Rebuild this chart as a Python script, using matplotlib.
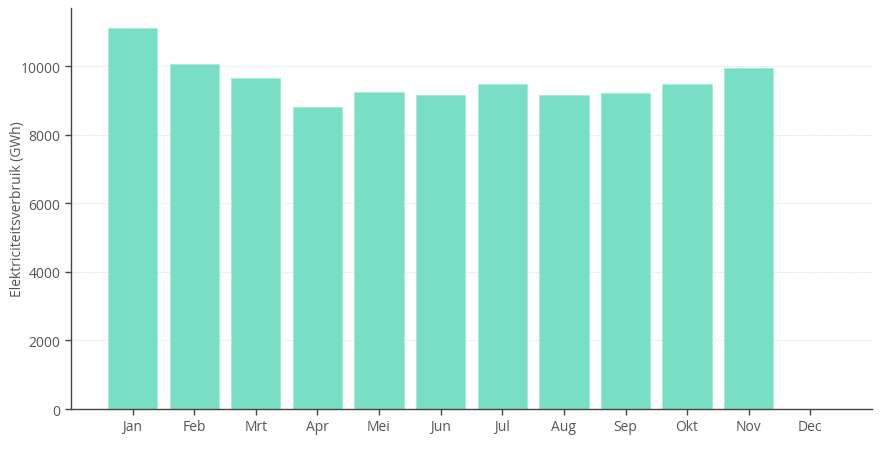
import matplotlib
matplotlib.use("Agg")
import matplotlib.pyplot as plt

months = ["Jan", "Feb", "Mrt", "Apr", "Mei", "Jun", "Jul", "Aug", "Sep", "Okt", "Nov", "Dec"]
verbruik = [11117, 10070, 9662, 8817, 9254, 9167, 9476, 9167, 9234, 9487, 9953, 0]
yticks = [0, 2000, 4000, 6000, 8000, 10000]

plt.rcParams['font.family'] = ['Open Sans', 'DejaVu Sans']

fig = plt.figure(figsize=(8.83, 4.52), dpi=100)
ax = fig.add_axes([0.0804, 0.0929, 0.9071, 0.887])

x = list(range(len(months)))
ax.bar(x, verbruik, width=0.8, color='#78dfc4', edgecolor='#a5ebd9', linewidth=0.6, zorder=2)

ax.set_xlim(-1, 12)
ax.set_ylim(0, 11700)
ax.set_xticks(x)
ax.set_xticklabels(months)
ax.set_yticks(yticks)
ax.set_yticklabels([str(v) for v in yticks])

ax.yaxis.grid(True, color='#e2e2e2', linestyle=(0, (1, 1)), linewidth=0.8, zorder=0)
ax.set_axisbelow(True)

for s in ['top', 'right']:
    ax.spines[s].set_visible(False)
for s in ['left', 'bottom']:
    ax.spines[s].set_color('#444444')
    ax.spines[s].set_linewidth(1.0)

ax.tick_params(axis='both', colors='#444444', labelcolor='#555555', labelsize=10, length=4, width=1)
ax.set_ylabel("Elektriciteitsverbruik (GWh)", color='#555555', fontsize=10)
ax.yaxis.set_label_coords(-0.058, 0.5)

fig.savefig("out.png", dpi=100)
